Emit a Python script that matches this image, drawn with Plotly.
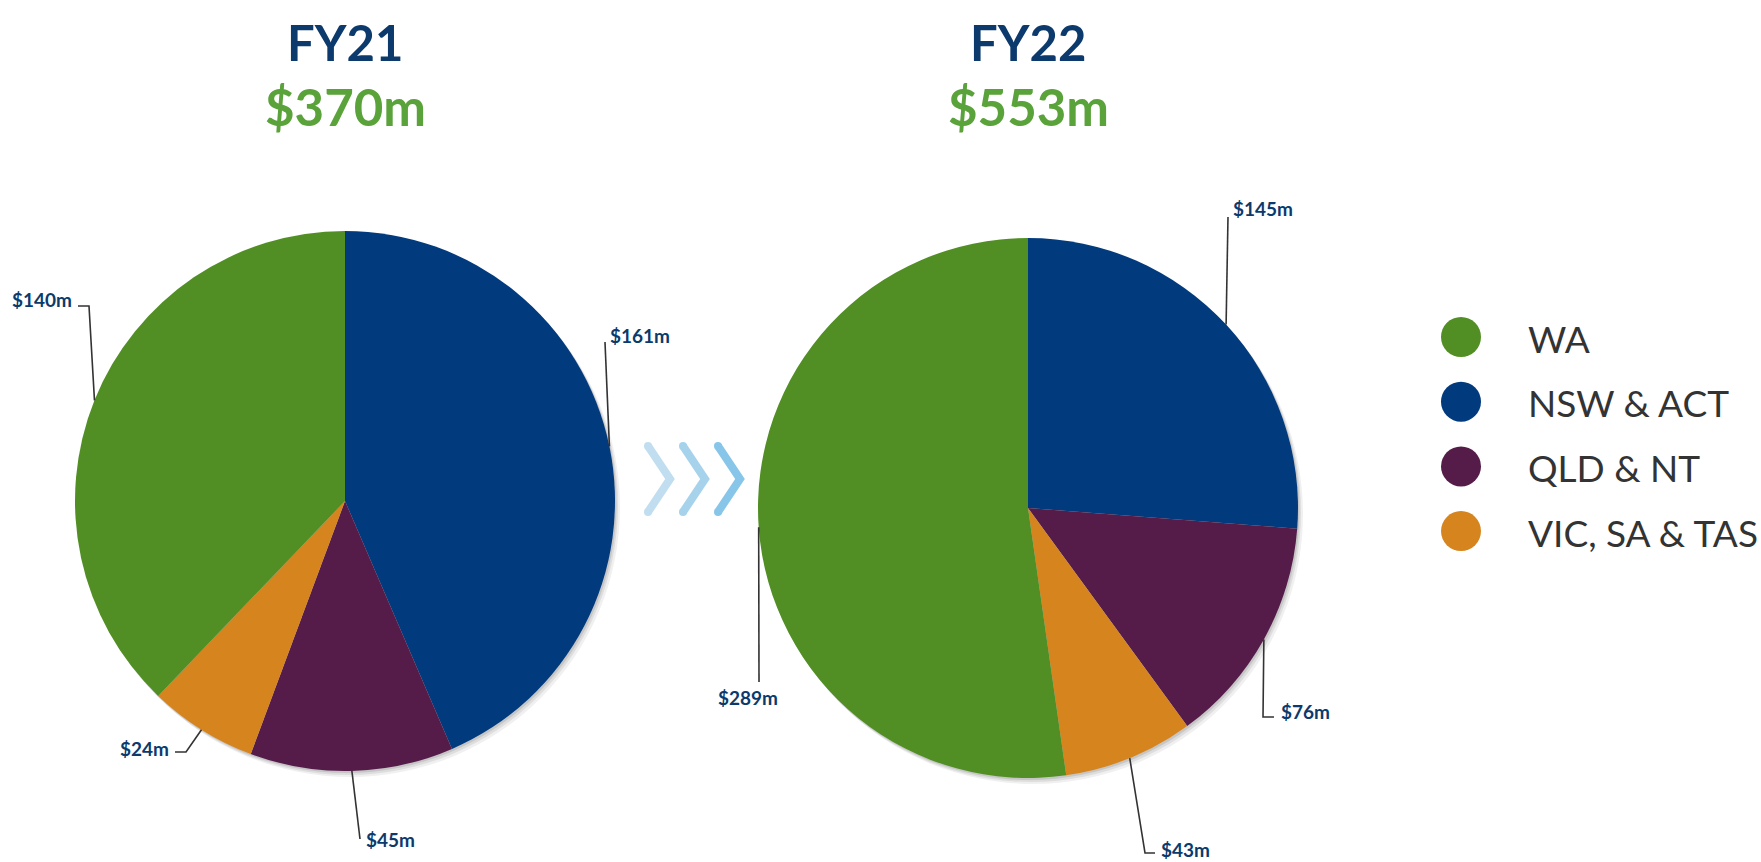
import math
import plotly.graph_objects as go

# ---------------- data ----------------
categories = ["NSW & ACT", "QLD & NT", "VIC, SA & TAS", "WA"]   # clockwise order from 12 o'clock
fy21_values = [161, 45, 24, 140]
fy22_values = [145, 76, 43, 289]
years = ["FY21", "FY22"]
totals = ["$370m", "$553m"]
legend_order = ["WA", "NSW & ACT", "QLD & NT", "VIC, SA & TAS"]

# ---------------- style / layout ----------------
W, H = 1761, 862
colors = {"WA": "#518f24", "NSW & ACT": "#013a7d", "QLD & NT": "#551c4a", "VIC, SA & TAS": "#d6841e"}
NAVY = "#0c3a6c"
GREEN = "#5aa23a"
R = 270
centers = [(345, 501), (1028, 508)]

# leader-line routing (pixel points after slice edge) and label placement
routes = [
    {  # FY21
        "NSW & ACT": ([(605, 342)], (608, 335), "left"),
        "QLD & NT": ([(360, 839)], (364, 839), "left"),
        "VIC, SA & TAS": ([(186, 752), (175, 752)], (171, 748), "right"),
        "WA": ([(89, 306), (78, 306)], (74, 300), "right"),
    },
    {  # FY22
        "NSW & ACT": ([(1228, 217)], (1231, 209), "left"),
        "QLD & NT": ([(1263, 717), (1274, 717)], (1279, 711), "left"),
        "VIC, SA & TAS": ([(1145, 853), (1155, 853)], (1159, 849), "left"),
        "WA": ([(759, 682)], (748, 697), "center"),
    },
]


def px(x):
    return x / W


def py(y):
    return 1 - y / H


fig = go.Figure()
shapes = []
annotations = []

for i, vals in enumerate([fy21_values, fy22_values]):
    cx, cy = centers[i]
    dom_x = [px(cx - R), px(cx + R)]
    dom_y = [py(cy + R), py(cy - R)]
    # soft shadow
    for k, (dx, dy, a) in enumerate([(5, 6, 0.06), (3, 4, 0.08), (1.5, 2, 0.10)]):
        fig.add_trace(go.Pie(
            values=[sum(vals)], labels=["shadow"], textinfo="none", hoverinfo="skip",
            marker=dict(colors=[f"rgba(0,0,0,{a})"], line=dict(width=0)),
            domain=dict(x=[px(cx - R + dx), px(cx + R + dx)], y=[py(cy + R + dy), py(cy - R + dy)]),
            showlegend=False, sort=False,
        ))
    fig.add_trace(go.Pie(
        labels=categories, values=vals, sort=False, direction="clockwise", rotation=0,
        textinfo="none", marker=dict(colors=[colors[c] for c in categories], line=dict(width=0)),
        domain=dict(x=dom_x, y=dom_y), showlegend=False, hoverinfo="label+value",
    ))
    total = sum(vals)
    cum = 0
    for cat, v in zip(categories, vals):
        theta = math.radians(360 * (cum + v / 2) / total)
        cum += v
        ex, ey = cx + R * math.sin(theta), cy - R * math.cos(theta)
        pts, (tx, ty), anchor = routes[i][cat]
        allp = [(ex, ey)] + pts
        path = "M " + " L ".join(f"{px(x):.5f},{py(y):.5f}" for x, y in allp)
        shapes.append(dict(type="path", xref="paper", yref="paper", path=path,
                           line=dict(color="#333333", width=1.6)))
        annotations.append(dict(x=px(tx), y=py(ty), xref="paper", yref="paper", text=f"<b>${v}m</b>",
                                showarrow=False, xanchor=anchor, yanchor="middle",
                                font=dict(family="Lato", size=19, color=NAVY)))
    # titles
    annotations.append(dict(x=px(cx), y=py(42), xref="paper", yref="paper", text=f"<b>{years[i]}</b>",
                            showarrow=False, xanchor="center", yanchor="middle",
                            font=dict(family="Lato", size=49, color=NAVY)))
    annotations.append(dict(x=px(cx), y=py(107), xref="paper", yref="paper", text=f"<b>{totals[i]}</b>",
                            showarrow=False, xanchor="center", yanchor="middle",
                            font=dict(family="Lato", size=51, color=GREEN)))

# chevrons
chev_colors = ["#c1def0", "#a6d2ec", "#88c6e9"]
for k, c in enumerate(chev_colors):
    x0 = 648 + 35 * k
    pts = [(x0, 446), (x0 + 22, 479), (x0, 512)]
    path = "M " + " L ".join(f"{px(x):.5f},{py(y):.5f}" for x, y in pts)
    shapes.append(dict(type="path", xref="paper", yref="paper", path=path, line=dict(color=c, width=8)))
    for (x, y) in (pts[0], pts[2]):
        shapes.append(dict(type="circle", xref="paper", yref="paper",
                           x0=px(x - 4), x1=px(x + 4), y0=py(y + 4), y1=py(y - 4),
                           fillcolor=c, line=dict(width=0)))

# legend
for j, cat in enumerate(legend_order):
    yc = 337 + 64.7 * j
    shapes.append(dict(type="circle", xref="paper", yref="paper",
                       x0=px(1441), x1=px(1481), y0=py(yc + 20), y1=py(yc - 20),
                       fillcolor=colors[cat], line=dict(width=0)))
    annotations.append(dict(x=px(1526), y=py(yc + 1), xref="paper", yref="paper", text=cat,
                            showarrow=False, xanchor="left", yanchor="middle",
                            font=dict(family="Lato", size=37, color="#333333")))

fig.update_layout(width=W, height=H, margin=dict(l=0, r=0, t=0, b=0),
                  paper_bgcolor="white", plot_bgcolor="white",
                  shapes=shapes, annotations=annotations, showlegend=False)
fig.write_html("out.html", config={"displayModeBar": False},
               post_script="document.body.style.margin='0';document.body.style.overflow='hidden';")
